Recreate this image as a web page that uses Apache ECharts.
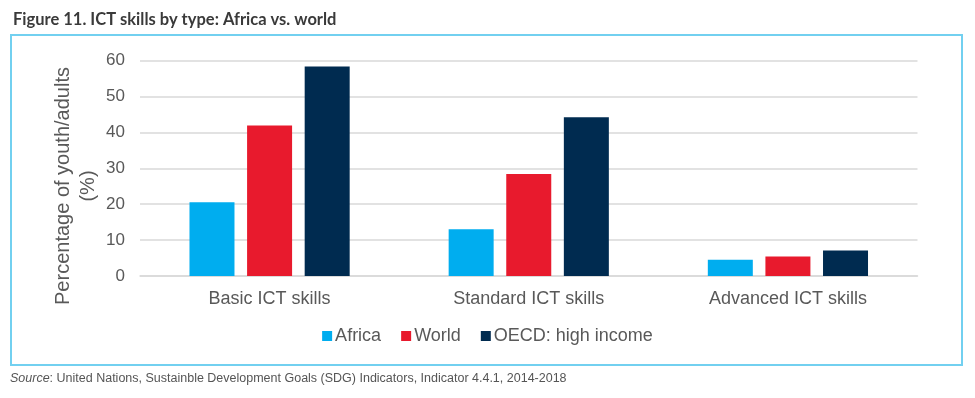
<!DOCTYPE html>
<html>
<head>
<meta charset="utf-8">
<script src="https://cdn.jsdelivr.net/npm/echarts@6/dist/echarts.min.js"></script>
<style>
    html, body { margin: 0; padding: 0; background: #fff; }
    #chart { width: 975px; height: 398px; }
</style>
</head>
<body>
<div id="chart"></div>
<script>
var categories = ['Basic ICT skills', 'Standard ICT skills', 'Advanced ICT skills']
var africa = [20.5, 13.0, 4.5]
var world = [41.9, 28.4, 5.4]
var oecd = [58.3, 44.2, 7.1]
var yTicks = { min: 0, max: 60, interval: 10 }

var chartDom = document.getElementById('chart')
var myChart = echarts.init(chartDom)

var labelFont = '"Liberation Sans", Arial, sans-serif'

function make_bar(name, data, color) {
    return {
        name: name,
        type: 'bar',
        data: data,
        barWidth: 45,
        barGap: '28%',
        itemStyle: { color: color },
        emphasis: { disabled: true }
    }
}

let options = {
    animation: false,
    title: {
        text: 'Figure 11. ICT skills by type: Africa vs. world',
        left: 8,
        top: 6,
        textStyle: {
            fontFamily: 'Lato',
            fontWeight: 'bold',
            fontSize: 16.5,
            color: '#3a3a3a'
        }
    },
    graphic: [
        {
            type: 'rect',
            shape: { x: 11, y: 35, width: 951, height: 330 },
            style: { fill: 'none', stroke: '#72d0f0', lineWidth: 2 },
            silent: true
        },
        {
            // y axis title, placed like the original (a bit below the grid middle)
            type: 'text',
            x: 76,
            y: 186,
            rotation: Math.PI / 2,
            silent: true,
            style: {
                text: 'Percentage of youth/adults\n(%)',
                fontFamily: labelFont,
                fontSize: 20,
                lineHeight: 25,
                fill: '#595959',
                align: 'center',
                verticalAlign: 'middle'
            }
        },
        {
            type: 'text',
            left: 10,
            top: 372,
            style: {
                text: '{i|Source}: United Nations, Sustainble Development Goals (SDG) Indicators, Indicator 4.4.1, 2014-2018',
                fontFamily: labelFont,
                fontSize: 12.5,
                fill: '#555',
                rich: {
                    i: { fontStyle: 'italic', fontFamily: labelFont, fontSize: 12.5, fill: '#555' }
                }
            }
        }
    ],
    legend: {
        data: ['Africa', 'World', 'OECD: high income'],
        top: 322,
        left: 'center',
        icon: 'rect',
        itemWidth: 10,
        itemHeight: 10,
        itemGap: 20,
        textStyle: { fontFamily: labelFont, fontSize: 18, color: '#595959', padding: [0, 0, 0, -2] }
    },
    grid: {
        left: 140,
        right: 57.5,
        top: 60.5,
        bottom: 122,
        containLabel: false
    },
    xAxis: {
        type: 'category',
        data: categories,
        axisTick: { show: false },
        axisLine: { lineStyle: { color: '#d9d9d9', width: 1.5 } },
        axisLabel: { fontFamily: labelFont, fontSize: 18, color: '#595959', margin: 14 }
    },
    yAxis: {
        type: 'value',
        min: yTicks.min,
        max: yTicks.max,
        interval: yTicks.interval,
        axisLine: { show: false },
        axisTick: { show: false },
        axisLabel: { fontFamily: labelFont, fontSize: 17, color: '#595959', margin: 15 },
        splitLine: { lineStyle: { color: '#d9d9d9', width: 1.5 } }
    },
    series: [
        make_bar('Africa', africa, '#00adef'),
        make_bar('World', world, '#e81a2d'),
        make_bar('OECD: high income', oecd, '#002b50')
    ]
}
myChart.setOption(options)
</script>
</body>
</html>
